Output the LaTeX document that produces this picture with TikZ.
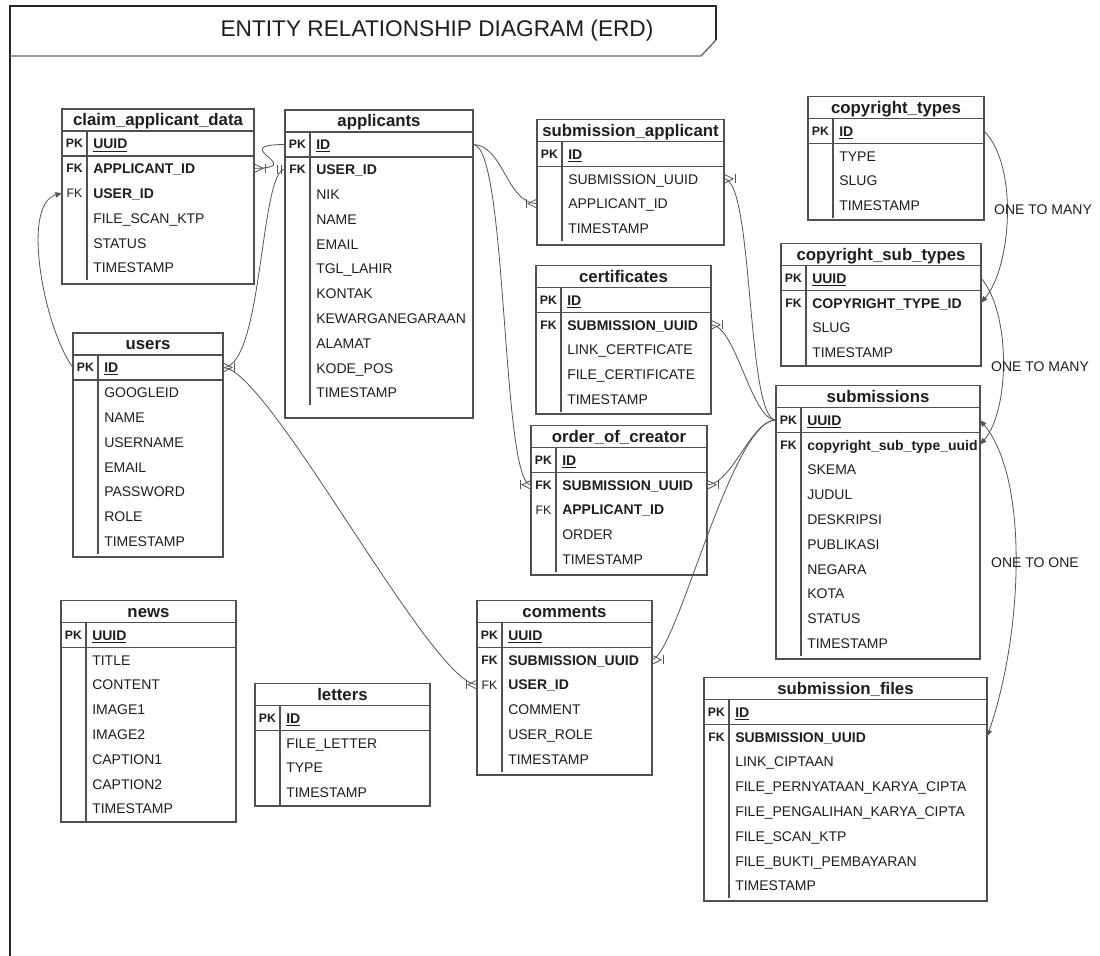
\documentclass[tikz,border=0pt]{standalone}
\usepackage{fontspec}
\setmainfont{Liberation Sans}
\usetikzlibrary{calc,arrows.meta}
\definecolor{tline}{HTML}{505050}
\definecolor{cline}{HTML}{555555}
\definecolor{ttext}{HTML}{1E1E1E}
\newcommand\fieldfont{\fontsize{10.5}{12}\selectfont}
\newcommand\hdrfont{\fontsize{12.6}{14}\selectfont\bfseries}
\newcommand\keyfont{\fontsize{9.2}{11}\selectfont}
\tikzset{
 tframe/.style={draw=tline, line width=0.9pt, inner sep=0pt, outer sep=0pt, anchor=north west, rectangle},
 tsep/.style={draw=tline, line width=0.9pt},
 thead/.style={font=\hdrfont, text=ttext, inner sep=0pt, anchor=base},
 tkey/.style={font=\keyfont\bfseries, text=ttext, inner sep=0pt, anchor=base},
 tkeyn/.style={font=\keyfont, text=ttext, inner sep=0pt, anchor=base},
 tfld/.style={font=\fieldfont, text=ttext, inner sep=0pt, anchor=base west},
 tfldb/.style={font=\fieldfont\bfseries, text=ttext, inner sep=0pt, anchor=base west},
 conn/.style={draw=cline, line width=0.6pt},
 arrend/.style={-{Triangle[length=5pt,width=4pt]}},
 arrboth/.style={{Triangle[length=5pt,width=4pt]}-{Triangle[length=5pt,width=4pt]}},
 relabel/.style={font=\fieldfont, text=ttext, inner sep=0pt},
}
% #1 name, #2 L, #3 R, #4 top, #5 number of fields, #6 bottom, #7 title
\newcommand\ertbl[7]{%
 \node[tframe, minimum width={(#3-#2)*0.75pt}, minimum height={(#6-#4)*0.75pt}] (#1) at (#2,#4) {};
 \node[thead] (#1-h) at ({(#2+#3)/2},{#4+16.8}) {#7};
 \draw[tsep] (#2,{#4+22}) -- (#3,{#4+22});
 \draw[tsep] (#2,{#4+47}) -- (#3,{#4+47});
 \draw[tsep] ({#2+25},{#4+22}) -- ({#2+25},{#4+47+24.8*#5});
}
% row with key: #1 table, #2 index, #3 key style, #4 key, #5 field style, #6 text
\newcommand\erowk[6]{%
 \coordinate (#1-w#2) at ($(#1.north west)+(0,{34.5+24.8*#2})$);
 \coordinate (#1-e#2) at ($(#1.north east)+(0,{34.5+24.8*#2})$);
 \node[#3] (#1-k#2) at ($(#1-w#2)+(12.5,4.4)$) {#4};
 \node[#5] (#1-f#2) at ($(#1-w#2)+(31,5.3)$) {#6};
}
% row without key
\newcommand\erowf[4]{%
 \coordinate (#1-w#2) at ($(#1.north west)+(0,{34.5+24.8*#2})$);
 \coordinate (#1-e#2) at ($(#1.north east)+(0,{34.5+24.8*#2})$);
 \node[#3] (#1-f#2) at ($(#1-w#2)+(31,5.3)$) {#4};
}
% crow's foot with bar; #2 = +1 east side, -1 west side
\newcommand\crowmark[2]{%
 \draw[conn] ($(#1)+(0,-4.5)$) -- ($(#1)+({#2*9},0)$) -- ($(#1)+(0,4.5)$);
 \draw[conn] ($(#1)+({#2*11},-4.5)$) -- ($(#1)+({#2*11},4.5)$);
}
\newcommand\onemark[2]{%
 \draw[conn] ($(#1)+({#2*4},-4.5)$) -- ($(#1)+({#2*4},4.5)$);
 \draw[conn] ($(#1)+({#2*8},-4.5)$) -- ($(#1)+({#2*8},4.5)$);
}
\begin{document}
\begin{tikzpicture}[x=0.75pt,y=-0.75pt]
\useasboundingbox (0,0) rectangle (1100,956);
\fill[white] (0,0) rectangle (1100,956);
% frame
\draw[black!85, line width=1.1pt] (10,956) -- (10,6) -- (716,6) -- (716,40);
\draw[black!60, line width=1pt] (716,40) -- (701,56) -- (10,56);
\node[font=\fontsize{17}{20}\selectfont, text=ttext, anchor=base, inner sep=0pt] (title) at (437,37) {ENTITY RELATIONSHIP DIAGRAM (ERD)};

% claim_applicant_data
\ertbl{cad}{62}{254}{109}{5}{284}{claim\_applicant\_data}
\erowk{cad}{0}{tkey}{PK}{tfldb}{\underline{UUID}}
\erowk{cad}{1}{tkey}{FK}{tfldb}{APPLICANT\_ID}
\erowk{cad}{2}{tkeyn}{FK}{tfldb}{USER\_ID}
\erowf{cad}{3}{tfld}{FILE\_SCAN\_KTP}
\erowf{cad}{4}{tfld}{STATUS}
\erowf{cad}{5}{tfld}{TIMESTAMP}

% applicants
\ertbl{app}{285}{473}{110}{10}{418}{applicants}
\erowk{app}{0}{tkey}{PK}{tfldb}{\underline{ID}}
\erowk{app}{1}{tkey}{FK}{tfldb}{USER\_ID}
\erowf{app}{2}{tfld}{NIK}
\erowf{app}{3}{tfld}{NAME}
\erowf{app}{4}{tfld}{EMAIL}
\erowf{app}{5}{tfld}{TGL\_LAHIR}
\erowf{app}{6}{tfld}{KONTAK}
\erowf{app}{7}{tfld}{KEWARGANEGARAAN}
\erowf{app}{8}{tfld}{ALAMAT}
\erowf{app}{9}{tfld}{KODE\_POS}
\erowf{app}{10}{tfld}{TIMESTAMP}

% users
\ertbl{usr}{73}{223}{333}{7}{557}{users}
\erowk{usr}{0}{tkey}{PK}{tfldb}{\underline{ID}}
\erowf{usr}{1}{tfld}{GOOGLEID}
\erowf{usr}{2}{tfld}{NAME}
\erowf{usr}{3}{tfld}{USERNAME}
\erowf{usr}{4}{tfld}{EMAIL}
\erowf{usr}{5}{tfld}{PASSWORD}
\erowf{usr}{6}{tfld}{ROLE}
\erowf{usr}{7}{tfld}{TIMESTAMP}

% news
\ertbl{news}{61}{236}{600.5}{7}{822}{news}
\erowk{news}{0}{tkey}{PK}{tfldb}{\underline{UUID}}
\erowf{news}{1}{tfld}{TITLE}
\erowf{news}{2}{tfld}{CONTENT}
\erowf{news}{3}{tfld}{IMAGE1}
\erowf{news}{4}{tfld}{IMAGE2}
\erowf{news}{5}{tfld}{CAPTION1}
\erowf{news}{6}{tfld}{CAPTION2}
\erowf{news}{7}{tfld}{TIMESTAMP}

% letters
\ertbl{let}{255}{430}{683.5}{3}{806}{letters}
\erowk{let}{0}{tkey}{PK}{tfldb}{\underline{ID}}
\erowf{let}{1}{tfld}{FILE\_LETTER}
\erowf{let}{2}{tfld}{TYPE}
\erowf{let}{3}{tfld}{TIMESTAMP}

% submission_applicant
\ertbl{sa}{537}{724}{119.5}{3}{245}{submission\_applicant}
\erowk{sa}{0}{tkey}{PK}{tfldb}{\underline{ID}}
\erowf{sa}{1}{tfld}{SUBMISSION\_UUID}
\erowf{sa}{2}{tfld}{APPLICANT\_ID}
\erowf{sa}{3}{tfld}{TIMESTAMP}

% certificates
\ertbl{cert}{536}{711}{265.5}{4}{414}{certificates}
\erowk{cert}{0}{tkey}{PK}{tfldb}{\underline{ID}}
\erowk{cert}{1}{tkey}{FK}{tfldb}{SUBMISSION\_UUID}
\erowf{cert}{2}{tfld}{LINK\_CERTFICATE}
\erowf{cert}{3}{tfld}{FILE\_CERTIFICATE}
\erowf{cert}{4}{tfld}{TIMESTAMP}

% order_of_creator
\ertbl{oc}{531}{707}{425.5}{4}{575}{order\_of\_creator}
\erowk{oc}{0}{tkey}{PK}{tfldb}{\underline{ID}}
\erowk{oc}{1}{tkey}{FK}{tfldb}{SUBMISSION\_UUID}
\erowk{oc}{2}{tkeyn}{FK}{tfldb}{APPLICANT\_ID}
\erowf{oc}{3}{tfld}{ORDER}
\erowf{oc}{4}{tfld}{TIMESTAMP}

% comments
\ertbl{com}{477}{652}{600.5}{5}{775}{comments}
\erowk{com}{0}{tkey}{PK}{tfldb}{\underline{UUID}}
\erowk{com}{1}{tkey}{FK}{tfldb}{SUBMISSION\_UUID}
\erowk{com}{2}{tkeyn}{FK}{tfldb}{USER\_ID}
\erowf{com}{3}{tfld}{COMMENT}
\erowf{com}{4}{tfld}{USER\_ROLE}
\erowf{com}{5}{tfld}{TIMESTAMP}

% copyright_types
\ertbl{ct}{808}{984}{96.5}{3}{220}{copyright\_types}
\erowk{ct}{0}{tkey}{PK}{tfldb}{\underline{ID}}
\erowf{ct}{1}{tfld}{TYPE}
\erowf{ct}{2}{tfld}{SLUG}
\erowf{ct}{3}{tfld}{TIMESTAMP}

% copyright_sub_types
\ertbl{cst}{781}{981}{243.5}{3}{366}{copyright\_sub\_types}
\erowk{cst}{0}{tkey}{PK}{tfldb}{\underline{UUID}}
\erowk{cst}{1}{tkey}{FK}{tfldb}{COPYRIGHT\_TYPE\_ID}
\erowf{cst}{2}{tfld}{SLUG}
\erowf{cst}{3}{tfld}{TIMESTAMP}

% submissions
\ertbl{sub}{776}{980}{385.5}{9}{659}{submissions}
\erowk{sub}{0}{tkey}{PK}{tfldb}{\underline{UUID}}
\erowk{sub}{1}{tkey}{FK}{tfldb}{copyright\_sub\_type\_uuid}
\erowf{sub}{2}{tfld}{SKEMA}
\erowf{sub}{3}{tfld}{JUDUL}
\erowf{sub}{4}{tfld}{DESKRIPSI}
\erowf{sub}{5}{tfld}{PUBLIKASI}
\erowf{sub}{6}{tfld}{NEGARA}
\erowf{sub}{7}{tfld}{KOTA}
\erowf{sub}{8}{tfld}{STATUS}
\erowf{sub}{9}{tfld}{TIMESTAMP}

% submission_files
\ertbl{sf}{704}{987}{677.5}{7}{901}{submission\_files}
\erowk{sf}{0}{tkey}{PK}{tfldb}{\underline{ID}}
\erowk{sf}{1}{tkey}{FK}{tfldb}{SUBMISSION\_UUID}
\erowf{sf}{2}{tfld}{LINK\_CIPTAAN}
\erowf{sf}{3}{tfld}{FILE\_PERNYATAAN\_KARYA\_CIPTA}
\erowf{sf}{4}{tfld}{FILE\_PENGALIHAN\_KARYA\_CIPTA}
\erowf{sf}{5}{tfld}{FILE\_SCAN\_KTP}
\erowf{sf}{6}{tfld}{FILE\_BUKTI\_PEMBAYARAN}
\erowf{sf}{7}{tfld}{TIMESTAMP}

% ---------- connectors ----------
\draw[conn] (app-w0) .. controls +(-60,0) and +(55,0) .. (cad-e1);
\crowmark{cad-e1}{1}
\draw[conn] (app-w1) .. controls +(-25,0) and +(40,0) .. (usr-e0);
\onemark{app-w1}{-1}
\crowmark{usr-e0}{1}
\draw[conn, arrend] (usr-w0) .. controls +(-28,-37) and +(-42,12) .. (cad-w2);
\draw[conn] (usr-e0) .. controls +(45,0) and +(-45,0) .. (com-w2);
\crowmark{com-w2}{-1}
\draw[conn] (app-e0) .. controls +(30,0) and +(-30,0) .. (sa-w2);
\crowmark{sa-w2}{-1}
\draw[conn] (app-e0) .. controls +(35,0) and +(-30,0) .. (oc-w1);
\crowmark{oc-w1}{-1}
\draw[conn] (sa-e1) .. controls +(30,0) and +(-30,0) .. (sub-w0);
\crowmark{sa-e1}{1}
\draw[conn] (cert-e1) .. controls +(25,0) and +(-25,0) .. (sub-w0);
\crowmark{cert-e1}{1}
\draw[conn] (oc-e1) .. controls +(25,0) and +(-25,0) .. (sub-w0);
\crowmark{oc-e1}{1}
\draw[conn] (com-e1) .. controls +(25,-5) and +(-45,0) .. (sub-w0);
\crowmark{com-e1}{1}
\draw[conn, arrend] (ct-e0) .. controls +(35,35) and +(30,-35) .. (cst-e1);
\draw[conn, arrend] (cst-e0) .. controls +(30,35) and +(30,-35) .. (sub-e1);
\draw[conn, arrboth] (sf-e1) .. controls +(35,-100) and +(50,60) .. (sub-e0);

\node[relabel] (l1) at (1043,210) {ONE TO MANY};
\node[relabel] (l2) at (1040,367) {ONE TO MANY};
\node[relabel] (l3) at (1035,563) {ONE TO ONE};
\end{tikzpicture}
\end{document}
